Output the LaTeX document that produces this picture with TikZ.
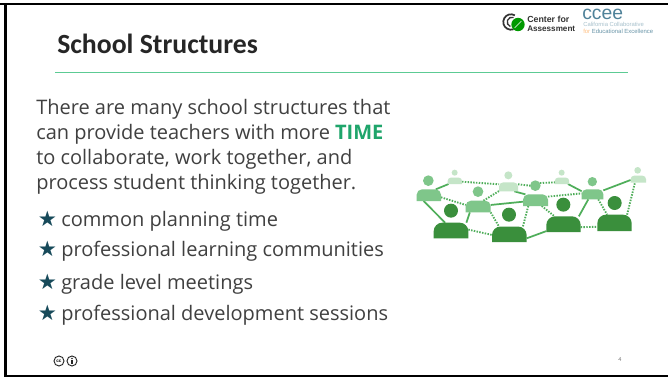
\documentclass[tikz,border=0pt]{standalone}
\usepackage{fontspec}
\setmainfont{Carlito}
\newfontfamily\starfont{DejaVu Sans}
\newfontfamily\liber{Liberation Sans}
\newfontfamily\opens{Open Sans}
\definecolor{titlegreen}{HTML}{1FA56B}
\definecolor{rulegreen}{HTML}{5CCB94}
\definecolor{darkp}{HTML}{3A8F3C}
\definecolor{midp}{HTML}{7FC68A}
\definecolor{palep}{HTML}{C5E5C8}
\definecolor{linkg}{HTML}{4FAE5A}
\definecolor{bodyt}{HTML}{404040}
\definecolor{titlet}{HTML}{262626}
\definecolor{staricon}{HTML}{174A5A}
\definecolor{cceeblue}{HTML}{4F8299}
\tikzset{
 x=0.75pt,y=-0.75pt,
 bodytext/.style={anchor=base west,inner sep=0,font=\opens\fontsize{15}{18}\selectfont,text=bodyt},
 staritem/.style={anchor=base west,inner sep=0,font=\opens\fontsize{15}{18}\selectfont,text=bodyt},
 starmark/.style={anchor=base west,inner sep=0,font=\starfont\fontsize{16}{18}\selectfont,text=staricon},
 solidlink/.style={linkg,line width=1.3pt},
 dotlink/.style={linkg,line width=1.4pt,dash pattern=on 1.1pt off 1pt},
 bodybox/.style={inner sep=0,outer sep=0,draw=none},
}
\newcommand{\person}[8]{%
 \node[bodybox,minimum width=#4*0.5pt,minimum height=#5*0.5pt] (#1) at (#2,#3) {};
 \node[bodybox,circle,minimum size=#8*0.5pt] (h#1) at (#6,#7) {};
}
\begin{document}
\begin{tikzpicture}
\useasboundingbox (0,0) rectangle (668,378);
\fill[white] (0,0) rectangle (668,378);
% slide frame
\fill[black] (0,2.7) rectangle (668,5);
\fill[black] (4.2,2.7) rectangle (6.5,377);
\fill[black] (4.2,375) rectangle (668,377);
% title
\node[anchor=base west,inner sep=0,font=\bfseries\fontsize{20.8}{24}\selectfont,text=titlet] (title) at (57,54) {School Structures};
\coordinate (ruleL) at (55,72.5); \coordinate (ruleR) at (628,72.5);
\draw[rulegreen,line width=0.9pt] (ruleL) -- (ruleR);
% body
\node[bodytext] (l1) at (36,114) {There are many school structures that};
\node[bodytext] (l2) at (36,139) {can provide teachers with more \textbf{\textcolor{titlegreen}{TIME}}};
\node[bodytext] (l3) at (36,164) {to collaborate, work together, and};
\node[bodytext] (l4) at (36,190) {process student thinking together.};
\node[starmark] (s1) at (37.5,226) {★}; \node[staritem] (i1) at (61,226) {common planning time};
\node[starmark] (s2) at (37.5,256) {★}; \node[staritem] (i2) at (61,256) {professional learning communities};
\node[starmark] (s3) at (37.5,289) {★}; \node[staritem] (i3) at (61,289) {grade level meetings};
\node[starmark] (s4) at (37.5,320) {★}; \node[staritem] (i4) at (61,320) {professional development sessions};
% network icon (coordinates are zoom pixels of the crop)
\begin{scope}[shift={(400,150)},x=0.25pt,y=-0.25pt]
\person{mA}{86.5}{135.5}{36.5}{17.5}{85}{92}{16}
\person{mB}{234.5}{169.5}{37.5}{17.5}{234}{125}{16}
\person{mC}{406.5}{150.5}{37.5}{17.5}{406}{107}{16}
\person{mD}{577.5}{133}{32.5}{15}{577}{95}{14}
\person{dA}{153}{241.5}{52}{23.5}{153}{182}{21}
\person{dB}{328}{253}{52}{23.5}{327}{194}{21}
\person{dC}{490.5}{222.5}{51.5}{23.5}{490}{164}{21}
\person{dD}{643.5}{218.5}{51.5}{24.5}{644}{159}{21}
\person{pA}{164.5}{92.5}{21.5}{9.5}{164}{68}{9}
\person{pB}{325.5}{110.5}{28.5}{13.5}{325}{76}{12}
\person{pC}{486}{92.5}{21.5}{9.5}{485}{68}{9}
\person{pD}{715}{87.5}{23}{10.5}{713}{61}{10}
\draw[solidlink] (mA.40) -- (pA.207);
\draw[solidlink] (mA.228) -- (dA.127);
\draw[solidlink] (mB.215) -- (dA.27);
\draw[solidlink] (mB.7) -- (mC.187);
\draw[solidlink] (pB.322) -- (mC.150);
\draw[solidlink] (dB.347) -- (dC.202);
\draw[solidlink] (dC.27) -- (mD.230);
\draw[solidlink] (mD.20) -- (pD.186);
\draw[solidlink] (pC.332) -- (mD.164);
\draw[dotlink] (pA.353) -- (pB.165);
\draw[dotlink] (pB.15) -- (hmC.180);
\draw[dotlink] (hmC.30) -- (pC.192);
\draw[dotlink] (mA.350) -- (mB.173);
\draw[dotlink] (mB.48) -- (pB.204);
\draw[dotlink] (mB.335) -- (dB.143);
\draw[dotlink] (mC.219) -- (dB.30);
\draw[dotlink] (mC.317) -- (dC.139);
\draw[dotlink] (mC.16) -- (mD.175);
\draw[dotlink] (mD.319) -- (dD.132);
\draw[dotlink] (dD.33) -- (pD.226);
\draw[dotlink] (dA.3) -- (dB.182);
\draw[dotlink] (dC.350) -- (dD.193);
\foreach \n/\c/\rr in {pA/palep/2.4,pB/palep/3.2,pC/palep/2.4,pD/palep/2.6,mA/midp/4,mB/midp/4,mC/midp/4,mD/midp/3.6,dA/darkp/6.5,dB/darkp/6.5,dC/darkp/6.5,dD/darkp/6.5}{
  \fill[\c] (\n.south west) [rounded corners=\rr pt] -- (\n.north west) -- (\n.north east) [sharp corners] -- (\n.south east) -- cycle;
}
\foreach \n/\c/\rr in {pA/palep/9,pB/palep/12,pC/palep/9,pD/palep/10,mA/midp/16,mB/midp/16,mC/midp/16,mD/midp/14,dA/darkp/21,dB/darkp/21,dC/darkp/21,dD/darkp/21}{
  \fill[\c] (h\n.center) circle[radius=\rr*0.25pt];
}
\end{scope}
% Center for Assessment logo
\draw[black!80,line width=1.3pt] ([shift={(60:5.8pt)}]511,22) arc[start angle=60,end angle=290,radius=5.8pt];
\draw[black!80,line width=1pt] ([shift={(70:3.6pt)}]512,22) arc[start angle=70,end angle=250,radius=3.6pt];
\node[circle,inner sep=0,minimum size=10pt,fill=green!60!black] (logoB) at (518,24.5) {};
\draw[white,line width=0.5pt] ([shift={(-2.5pt,-2.5pt)}]logoB.center) -- ([shift={(2.5pt,2.5pt)}]logoB.center);
\node[anchor=base west,inner sep=0,font=\liber\bfseries\fontsize{6.6}{7}\selectfont,text=black!80] (cfa1) at (527,22.5) {Center for};
\node[anchor=base west,inner sep=0,font=\liber\bfseries\fontsize{6.1}{7}\selectfont,text=black!80] (cfa2) at (527,32) {Assessment};
\node[anchor=base west,inner sep=0,font=\liber\fontsize{14.5}{15}\selectfont,text=cceeblue] (ccee) at (582,20) {ccee};
\node[anchor=base west,inner sep=0,font=\liber\fontsize{4.4}{5}\selectfont,text=cceeblue!50] (cc1) at (583,27) {California Collaborative};
\node[anchor=base west,inner sep=0,font=\liber\fontsize{4.45}{5}\selectfont,text=cceeblue!85] (cc2) at (583,33.5) {\textcolor{orange!50}{for} Educational Excellence};
% CC badges
\node[circle,draw=black!85,line width=0.7pt,inner sep=0,minimum size=7.5pt,font=\liber\bfseries\fontsize{3.5}{4}\selectfont] (ccA) at (59,361) {cc};
\node[circle,draw=black!85,line width=0.7pt,inner sep=0,minimum size=7.5pt] (ccB) at (72,361) {};
\fill[black!85] ([yshift=1.9pt]ccB.center) circle[radius=0.65pt];
\fill[black!85] ([shift={(-0.9pt,1pt)}]ccB.center) rectangle ([shift={(0.9pt,-2.4pt)}]ccB.center);
% page number
\node[inner sep=0,font=\fontsize{4.5}{5}\selectfont,text=black!55] (pnum) at (620,360) {4};
\end{tikzpicture}
\end{document}
